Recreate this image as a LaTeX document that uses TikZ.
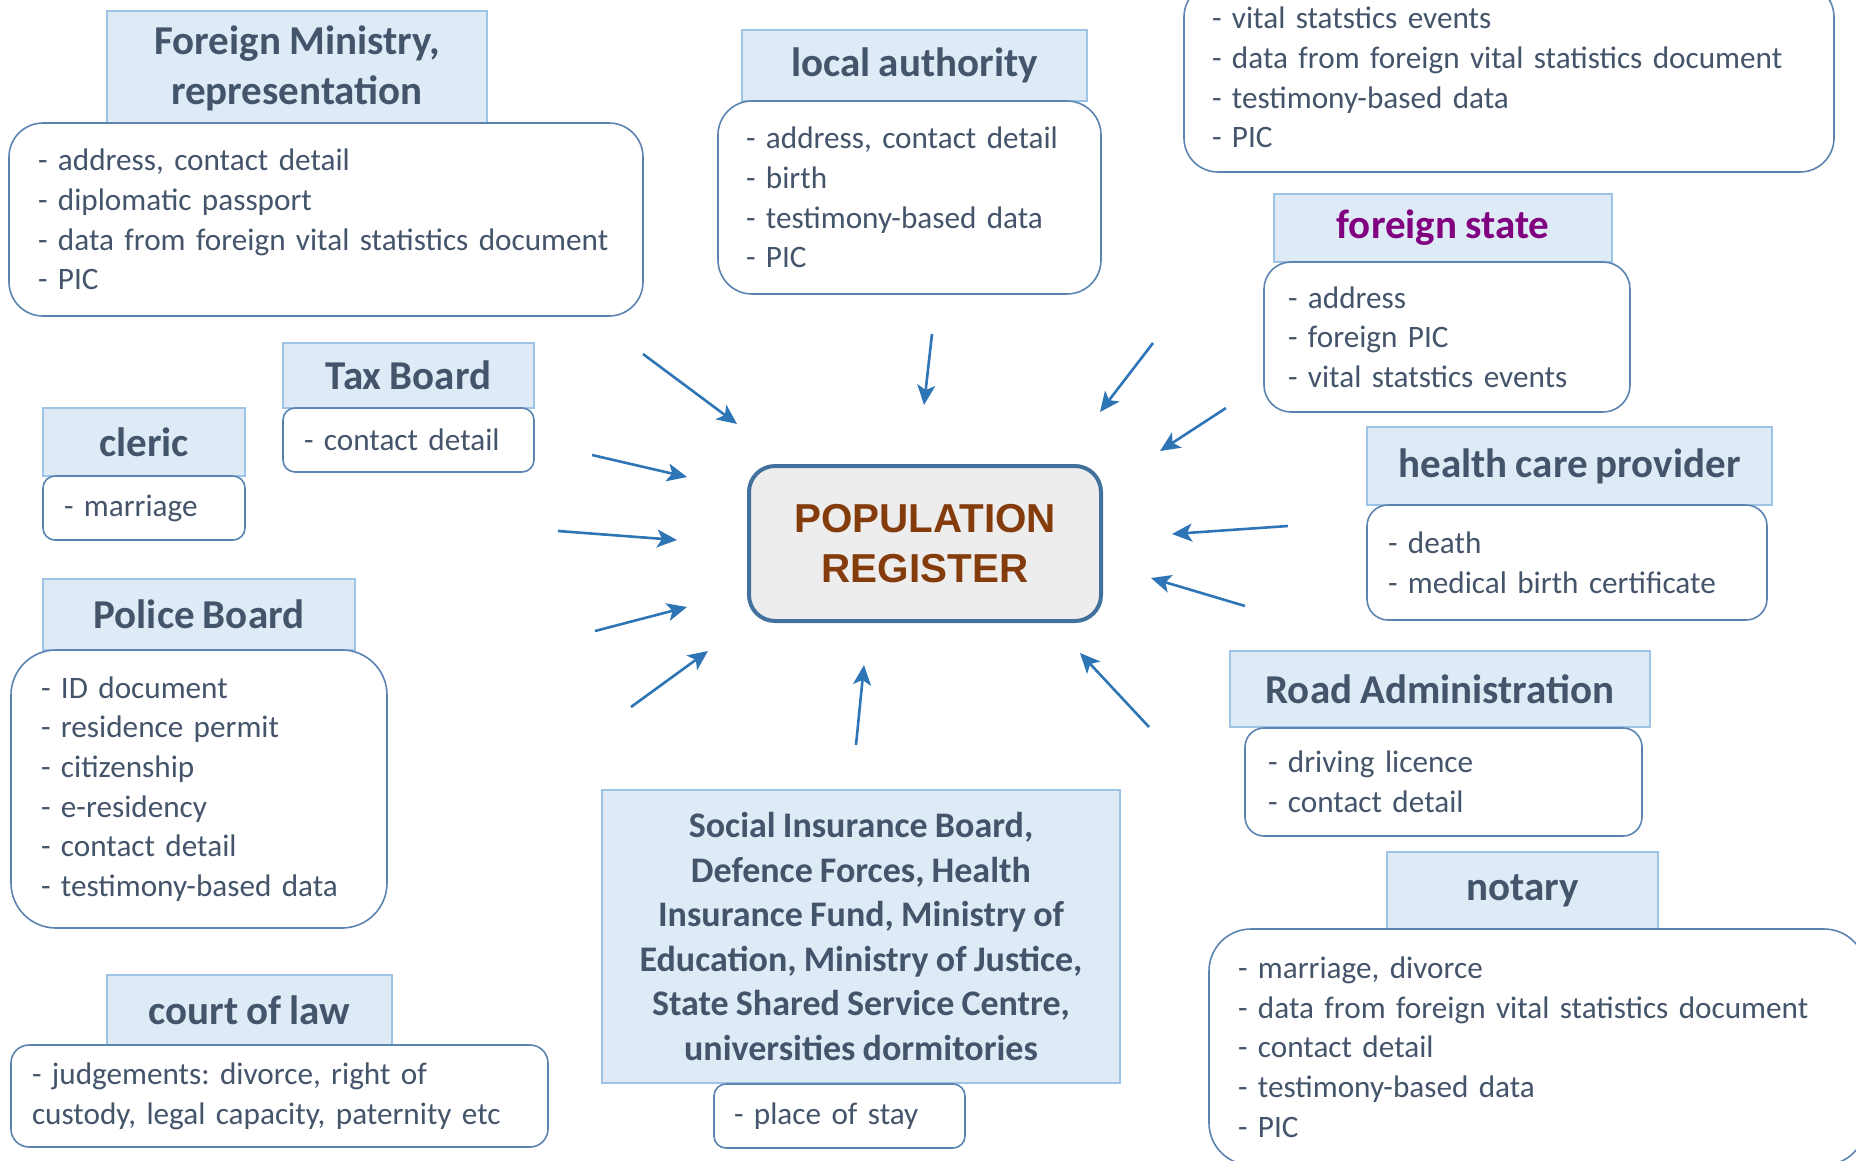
\documentclass[tikz,border=0pt]{standalone}
\usepackage{fontspec}
\setmainfont{Carlito}[WordSpace={0.88}]
\newfontfamily\arialfont{Liberation Sans}
\usepackage{tikz}
\usetikzlibrary{arrows.meta}
\definecolor{headfill}{HTML}{DEEBF7}
\definecolor{headline}{HTML}{9DC3E6}
\definecolor{listline}{HTML}{5B84B1}
\definecolor{slate}{HTML}{44546A}
\definecolor{arrowblue}{HTML}{2E75B6}
\definecolor{regfill}{HTML}{EDEDED}
\definecolor{regline}{HTML}{41719C}
\definecolor{regtext}{HTML}{843C0C}
\definecolor{purplish}{HTML}{800080}

\begin{document}
\begin{tikzpicture}[x=1pt,y=-1pt,>={Stealth[length=20pt,width=18pt,inset=5pt]},
    head node/.style={draw=headline,fill=headfill,line width=2pt,text=slate,align=center,font=\fontsize{41}{49.7}\selectfont\bfseries\frenchspacing},
    list node/.style={draw=listline,fill=white,line width=1.6pt,text=slate,align=left,font=\fontsize{31.2}{39.7}\selectfont\frenchspacing},
    main node/.style={draw=regline,fill=regfill,line width=4pt,rounded corners=26pt,text=regtext,align=center,font=\arialfont\bfseries\fontsize{40.4}{50}\selectfont},
    link/.style={->,draw=arrowblue,line width=2.6pt}]

  \useasboundingbox (0,0) rectangle (1856,1160);

  \node[head node,minimum width=380pt,minimum height=115pt] (fmhead) at (297,68) {Foreign Ministry,\\representation};
  \node[list node,rounded corners=34pt,text width=576pt,inner xsep=29pt,minimum height=193pt] (fmlist) at (326,219.5)
    {- address, contact detail\\- diplomatic passport\\- data from foreign vital statistics document\\- PIC};

  \node[head node,minimum width=345pt,minimum height=71pt] (lahead) at (914.5,65.5) {local authority};
  \node[list node,rounded corners=34pt,text width=327pt,inner xsep=28pt,minimum height=193pt] (lalist) at (909.5,197.5)
    {- address, contact detail\\- birth\\- testimony-based data\\- PIC};

  \node[list node,rounded corners=34pt,text width=594pt,inner xsep=28pt,minimum height=189pt] (trlist) at (1509,77.5)
    {- vital statstics events\\- data from foreign vital statistics document\\- testimony-based data\\- PIC};

  \node[head node,text=purplish,minimum width=338pt,minimum height=68pt] (fshead) at (1443,228) {foreign state};
  \node[list node,rounded corners=27pt,text width=318pt,inner xsep=24pt,minimum height=150pt] (fslist) at (1447,337)
    {- address\\- foreign PIC\\- vital statstics events};

  \node[head node,minimum width=405pt,minimum height=78pt] (hchead) at (1569.5,466) {health care provider};
  \node[list node,rounded corners=21pt,text width=358pt,inner xsep=21pt,minimum height=115pt] (hclist) at (1567,562.5)
    {- death\\- medical birth certificate};

  \node[head node,minimum width=420pt,minimum height=76pt] (rahead) at (1440,689) {Road Administration};
  \node[list node,rounded corners=19pt,text width=351pt,inner xsep=23pt,minimum height=108pt] (ralist) at (1443.5,782)
    {- driving licence\\- contact detail};

  \node[head node,minimum width=271pt,minimum height=77pt] (nohead) at (1522.5,890.5) {notary};
  \node[list node,rounded corners=42pt,text width=599pt,inner xsep=29pt,minimum height=236pt] (nolist) at (1537.5,1047)
    {- marriage, divorce\\- data from foreign vital statistics document\\- contact detail\\- testimony-based data\\- PIC};

  \node[head node,minimum width=251pt,minimum height=65pt] (tbhead) at (408.5,375.5) {Tax Board};
  \node[list node,rounded corners=12pt,text width=209pt,inner xsep=21pt,minimum height=64pt] (tblist) at (408.5,440)
    {- contact detail};

  \node[head node,minimum width=202pt,minimum height=68pt] (clhead) at (144,442) {cleric};
  \node[list node,rounded corners=12pt,text width=160pt,inner xsep=21pt,minimum height=64pt] (cllist) at (144,508)
    {- marriage};

  \node[head node,minimum width=312pt,minimum height=71pt] (pbhead) at (199,614.5) {Police Board};
  \node[list node,rounded corners=45pt,text width=316pt,inner xsep=30pt,minimum height=278pt] (pblist) at (199,789)
    {- ID document\\- residence permit\\- citizenship\\- e-residency\\- contact detail\\- testimony-based data};

  \node[head node,minimum width=285pt,minimum height=70pt] (cwhead) at (249.5,1010) {court of law};
  \node[list node,rounded corners=18pt,text width=495pt,inner xsep=21pt,minimum height=102pt] (cwlist) at (279.5,1096)
    {- judgements: divorce, right of\\custody, legal capacity, paternity etc};

  \node[head node,font=\fontsize{36}{44.5}\selectfont\bfseries\frenchspacing,minimum width=518pt,minimum height=293pt] (sihead) at (861,936.5)
    {Social Insurance Board,\\Defence Forces, Health\\Insurance Fund, Ministry of\\Education, Ministry of Justice,\\State Shared Service Centre,\\universities dormitories};
  \node[list node,rounded corners=12pt,text width=211pt,inner xsep=20pt,minimum height=64pt] (silist) at (839.5,1116)
    {- place of stay};

  \node[main node,minimum width=352pt,minimum height=155pt] (register) at (925,543.5) {POPULATION\\REGISTER};

  \foreach \i/\tx/\ty/\hx/\hy in {1/643/354/737/424, 2/592/455/687/477, 3/558/531/677/540,
      4/595/631/687/607, 5/631/707/708/651, 6/932/334/924/405, 7/1153/343/1100/412,
      8/1226/408/1160/451, 9/1288/526/1172/534, 10/1245/606/1151/578,
      11/1149/727/1080/653, 12/856/745/864/665} {
    \coordinate (tail\i) at (\tx,\ty);
    \coordinate (tip\i) at (\hx,\hy);
    \draw[link] (tail\i) -- (tip\i);
  }
\end{tikzpicture}
\end{document}
